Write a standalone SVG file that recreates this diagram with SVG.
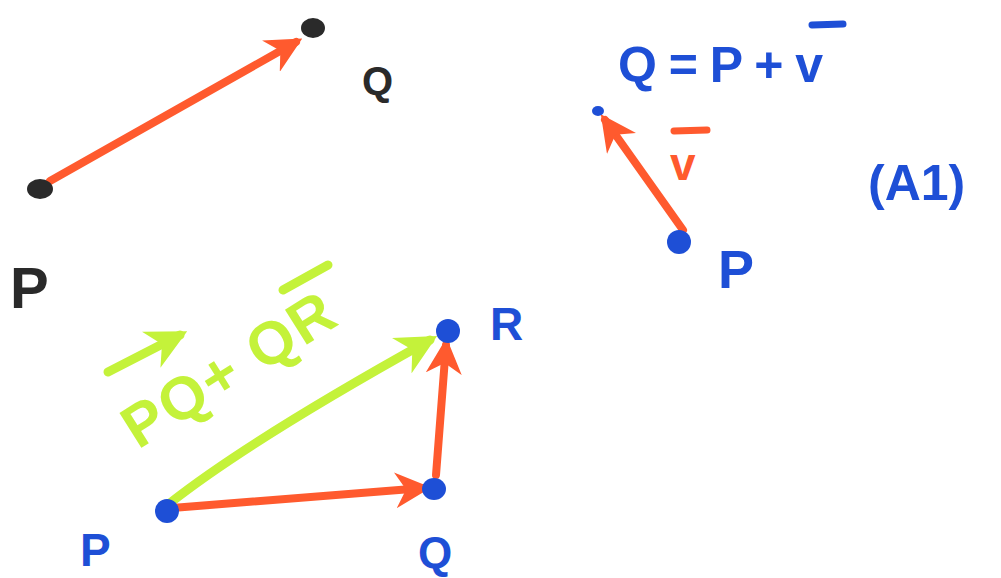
<svg xmlns="http://www.w3.org/2000/svg" width="1001" height="578" viewBox="0 0 1001 578">
<style>
.red{stroke:#ff5a2e;stroke-width:8;stroke-linecap:round;fill:none}
.grn{stroke:#c4f23a;stroke-width:9;stroke-linecap:round;fill:none}
.lbl{font-family:"Liberation Sans",Arial,sans-serif;font-weight:bold}
.blk{fill:#2a2a2a}
.blu{fill:#1e4fd6}
</style>
<defs>
<marker id="ahR" viewBox="0 0 10 10" refX="8" refY="5" markerWidth="4.5" markerHeight="4.5" orient="auto" markerUnits="strokeWidth">
<path d="M0,0 L10,5 L0,10 L3,5 Z" fill="#ff5a2e"/>
</marker>
<marker id="ahG" viewBox="0 0 10 10" refX="8" refY="5" markerWidth="4.5" markerHeight="4.5" orient="auto" markerUnits="strokeWidth">
<path d="M0,0 L10,5 L0,10 L3,5 Z" fill="#c4f23a"/>
</marker>
</defs>
<rect width="1001" height="578" fill="#ffffff"/>
<g id="connectors">
<line class="red" x1="50" y1="181" x2="296" y2="42" marker-end="url(#ahR)"/>
<line class="red" x1="683" y1="230" x2="605" y2="120" marker-end="url(#ahR)"/>
<path class="grn" d="M170,503 Q250,440 430,340" marker-end="url(#ahG)"/>
<line class="red" x1="172" y1="508" x2="424" y2="488" marker-end="url(#ahR)"/>
<line class="red" x1="436" y1="475" x2="446" y2="345" marker-end="url(#ahR)"/>
</g>
<g id="node-P1"><ellipse cx="40" cy="189" rx="13" ry="10" class="blk"/><text class="lbl blk" x="10" y="308" font-size="58">P</text></g>
<g id="node-Q1"><ellipse cx="313" cy="28" rx="12" ry="10" class="blk"/><text class="lbl blk" x="362" y="95" font-size="40">Q</text></g>
<g id="node-Q2"><ellipse cx="598" cy="111" rx="6" ry="5" class="blu"/></g>
<g id="node-P2"><circle cx="679" cy="242" r="12" class="blu"/><text class="lbl blu" x="718" y="288" font-size="54">P</text></g>
<g id="label-eq"><text class="lbl blu" x="618" y="82" font-size="50" letter-spacing="-1">Q = P + v</text><line x1="812" y1="25" x2="843" y2="24" stroke="#1e4fd6" stroke-width="7" stroke-linecap="round"/></g>
<g id="label-v"><text class="lbl" x="670" y="180" font-size="46" fill="#ff5a2e">v</text><line x1="674" y1="131" x2="707" y2="130" stroke="#ff5a2e" stroke-width="7" stroke-linecap="round"/></g>
<g id="label-A1"><text class="lbl blu" x="868" y="200" font-size="50">(A1)</text></g>
<g id="node-P3"><circle cx="167" cy="511" r="12" class="blu"/><text class="lbl blu" x="80" y="566" font-size="46">P</text></g>
<g id="node-Q3"><ellipse cx="434" cy="489" rx="12" ry="11" class="blu"/><text class="lbl blu" x="418" y="568" font-size="44">Q</text></g>
<g id="node-R"><circle cx="448" cy="331" r="12" class="blu"/><text class="lbl blu" x="490" y="340" font-size="46">R</text></g>
<g id="label-sum">
<text class="lbl" font-size="60" fill="#c4f23a" letter-spacing="2" transform="translate(138,450) rotate(-32)">PQ+ QR</text>
<line class="grn" x1="108" y1="372" x2="180" y2="335" marker-end="url(#ahG)"/>
<line class="grn" x1="283" y1="290" x2="328" y2="265"/>
</g>
</svg>
